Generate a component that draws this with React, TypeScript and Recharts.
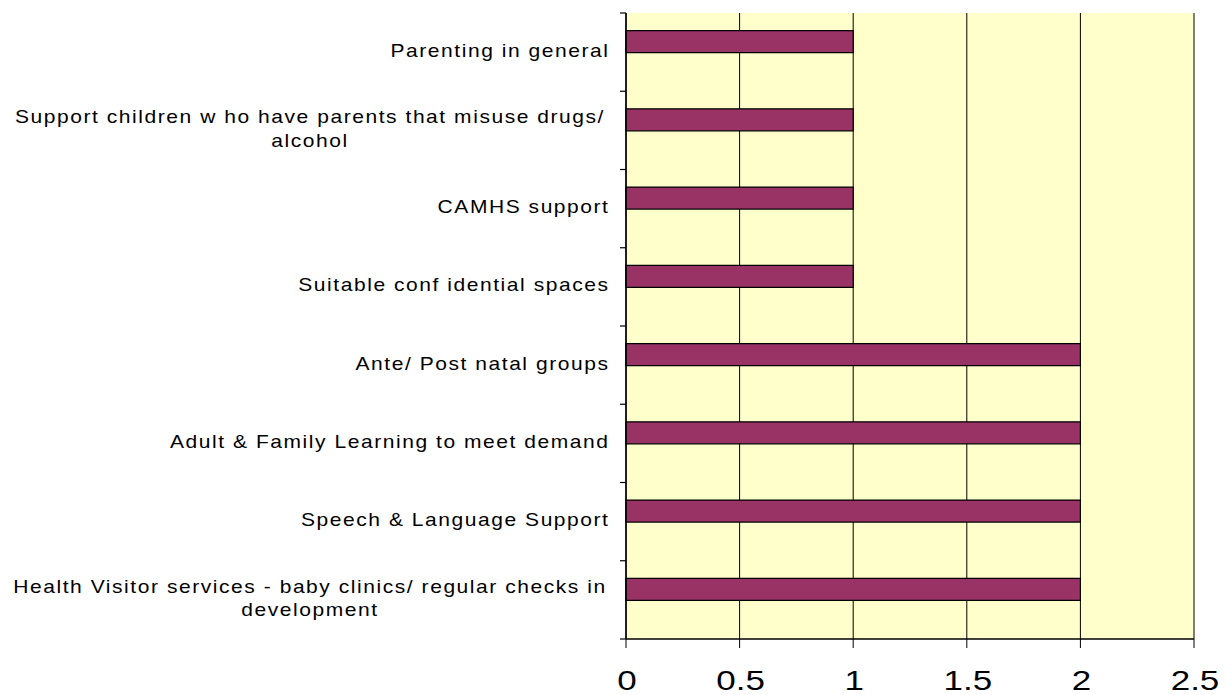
import React from 'react';
import { BarChart, Bar, XAxis, YAxis, CartesianGrid } from 'recharts';

// Excel-style horizontal bar chart: one real series plus an empty second slot
const categories = [
  'Parenting in general',
  'Support children w ho have parents that misuse drugs/\nalcohol',
  'CAMHS support',
  'Suitable conf idential spaces',
  'Ante/ Post natal groups',
  'Adult & Family Learning to meet demand',
  'Speech & Language Support',
  'Health Visitor services - baby clinics/ regular checks in\ndevelopment',
];
const values = [1, 1, 1, 1, 2, 2, 2, 2];
const emptySeries = [null, null, null, null, null, null, null, null];
const xTicks = [0, 0.5, 1, 1.5, 2, 2.5];

const CHART_W = 1229;
const CHART_H = 695;
const MARGIN = { top: 13, right: 35, bottom: 0, left: 6 };
const X_AXIS_H = 56;
const PLOT_H = CHART_H - MARGIN.top - MARGIN.bottom - X_AXIS_H;
const BAND = PLOT_H / categories.length;

const FONT = '"Liberation Sans", Arial, sans-serif';
const BAR_FILL = '#993366';
const PLOT_BG = '#FFFFCC';
const BORDER_GREY = '#808080';

const data = categories.map((name, i) => ({
  name,
  value: values[i],
  other: emptySeries[i],
}));

const CategoryTick = (props: any) => {
  const { x, y, payload, index } = props;
  const lines = String(payload.value).split('\n');
  const multi = lines.length > 1;
  const lineH = 23.5;
  const isLast = index === categories.length - 1;
  return (
    <g>
      {/* Excel puts the category tick marks between the categories */}
      <line x1={x - 6} x2={x} y1={y - BAND / 2} y2={y - BAND / 2} stroke="#000" strokeWidth={1.2} />
      {isLast ? (
        <line x1={x - 6} x2={x} y1={y + BAND / 2} y2={y + BAND / 2} stroke="#000" strokeWidth={1.2} />
      ) : null}
      <g transform={`translate(${multi ? x - 316 : x - 16.5} ${y + 4.5}) scale(1.2 1)`}>
        <text
          fill="#000"
          fontFamily={FONT}
          fontSize={17.5}
          letterSpacing={1.3}
          textAnchor={multi ? 'middle' : 'end'}
        >
          {lines.map((ln, i) => (
            <tspan key={i} x={0} y={(i - (lines.length - 1) / 2) * lineH}>
              {ln}
            </tspan>
          ))}
        </text>
      </g>
    </g>
  );
};

const ValueTick = (props: any) => {
  const { x, y, payload } = props;
  return (
    <g transform={`translate(${x + 1} ${y + 42}) scale(1.25 1)`}>
      <text x={0} y={0} fill="#000" fontFamily={FONT} fontSize={28} textAnchor="middle">
        {payload.value}
      </text>
    </g>
  );
};

export default function App() {
  return (
    <div style={{ position: 'absolute', left: 0, top: 0, width: CHART_W, height: CHART_H, background: '#fff' }}>
      <BarChart
        width={CHART_W}
        height={CHART_H}
        data={data}
        layout="vertical"
        margin={MARGIN}
        barCategoryGap="22.5%"
        barGap={0}
      >
        <CartesianGrid
          fill={PLOT_BG}
          fillOpacity={1}
          horizontal={false}
          vertical={true}
          stroke="#000"
          strokeOpacity={1}
        />
        <XAxis
          type="number"
          domain={[0, 2.5]}
          ticks={xTicks}
          interval={0}
          height={X_AXIS_H}
          tickSize={9}
          tickMargin={0}
          axisLine={{ stroke: '#000', strokeWidth: 1.5 }}
          tickLine={{ stroke: '#000', strokeWidth: 1 }}
          tick={<ValueTick />}
        />
        <XAxis
          xAxisId="top"
          orientation="top"
          type="number"
          domain={[0, 2.5]}
          height={0}
          tick={false}
          tickLine={false}
          axisLine={{ stroke: BORDER_GREY, strokeWidth: 2 }}
        />
        <YAxis
          type="category"
          dataKey="name"
          interval={0}
          width={620}
          tickSize={0}
          tickMargin={0}
          tickLine={false}
          axisLine={{ stroke: '#000', strokeWidth: 1.5 }}
          tick={<CategoryTick />}
        />
        <YAxis
          yAxisId="right"
          orientation="right"
          type="number"
          width={0}
          tick={false}
          tickLine={false}
          axisLine={{ stroke: BORDER_GREY, strokeWidth: 2 }}
        />
        <Bar dataKey="value" fill={BAR_FILL} stroke="#000" strokeWidth={1.2} isAnimationActive={false} />
        <Bar dataKey="other" fill={BAR_FILL} stroke="#000" strokeWidth={1.2} isAnimationActive={false} />
      </BarChart>
    </div>
  );
}
